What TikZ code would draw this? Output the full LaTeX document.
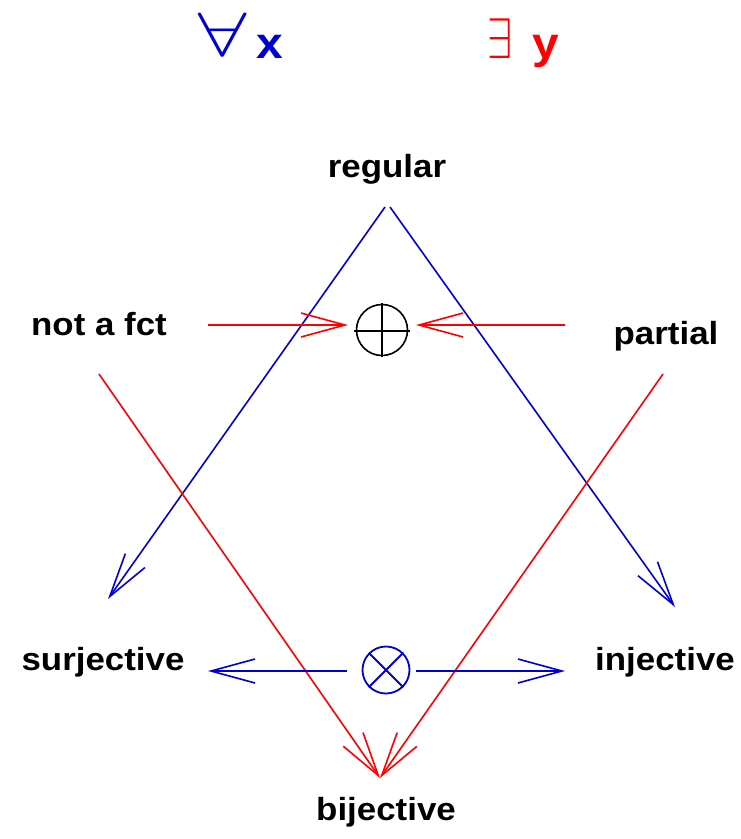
\documentclass[tikz,border=0pt]{standalone}
\usepackage{fontspec}
\setmainfont{Liberation Sans}[FakeStretch=1.09]
\newfontfamily\lmmfont{latinmodern-math.otf}
\usetikzlibrary{arrows.meta}
\definecolor{myblue}{RGB}{0,0,210}
\definecolor{myred}{RGB}{255,0,0}
\begin{document}
\begin{tikzpicture}[x=1pt,y=-1pt,
  lbl/.style={font=\fontsize{32}{36}\selectfont\bfseries, anchor=base, inner sep=0pt},
  qlbl/.style={font=\fontsize{44}{48}\selectfont\bfseries, anchor=base, inner sep=0pt},
  ln/.style={line width=1.6pt},
  barb/.style={-{Straight Barb[length=44pt,width=24pt,line width=1.6pt]}}]
\useasboundingbox (0,0) rectangle (740,839);
% quantifiers
\node[anchor=base, inner sep=0pt, text=myblue] (fa) at (223,57) {\lmmfont\fontsize{65}{68}\selectfont\scalebox{1.3}[1]{∀}};
\node[qlbl, text=myblue] (vx) at (270,58) {x};
\node[anchor=base, inner sep=0pt, text=myred] (ex) at (500,58) {\lmmfont\fontsize{58}{60}\selectfont\scalebox{0.78}[1]{∃}};
\node[qlbl, text=myred] (vy) at (546,58) {y};
% labels
\node[lbl] (reg) at (387,177) {regular};
\node[lbl] (naf) at (99,335) {not a fct};
\node[lbl] (par) at (666,344) {partial};
\node[lbl] (sur) at (103,670) {surjective};
\node[lbl] (inj) at (665,670) {injective};
\node[lbl] (bij) at (386,820) {bijective};
% coordinates
\coordinate (bl0) at (385,207);
\coordinate (br0) at (390,207);
\coordinate (blt) at (108,599);
\coordinate (brt) at (675,607);
\coordinate (rl0) at (99,374);
\coordinate (rr0) at (663,374);
\coordinate (rt) at (380,778);
\coordinate (pl0) at (208,325);
\coordinate (plt) at (348,325);
\coordinate (pr0) at (565,325);
\coordinate (prt) at (416,325);
\coordinate (ol0) at (347,671);
\coordinate (olt) at (208,671);
\coordinate (or0) at (416,671);
\coordinate (ort) at (565,671);
% circles
\node[draw=black, line width=1.6pt, circle, minimum size=51pt, inner sep=0pt] (oplus) at (382,330) {};
\draw[line width=1.4pt] (382,303) -- (382,357) (354,331) -- (410,331);
\node[draw=myblue, line width=1.8pt, circle, minimum size=47pt, inner sep=0pt] (otimes) at (386,670) {};
\draw[myblue, line width=1.8pt] (otimes.north west) -- (otimes.south east) (otimes.north east) -- (otimes.south west);
% blue diagonals
\draw[myblue, ln, barb] (bl0) -- (blt);
\draw[myblue, ln, barb] (br0) -- (brt);
% red diagonals
\draw[myred, ln, barb] (rl0) -- (rt);
\draw[myred, ln, barb] (rr0) -- (rt);
% red horizontals
\draw[myred, ln, barb] (pl0) -- (plt);
\draw[myred, ln, barb] (pr0) -- (prt);
% blue horizontals
\draw[myblue, ln, barb] (ol0) -- (olt);
\draw[myblue, ln, barb] (or0) -- (ort);
\end{tikzpicture}
\end{document}
